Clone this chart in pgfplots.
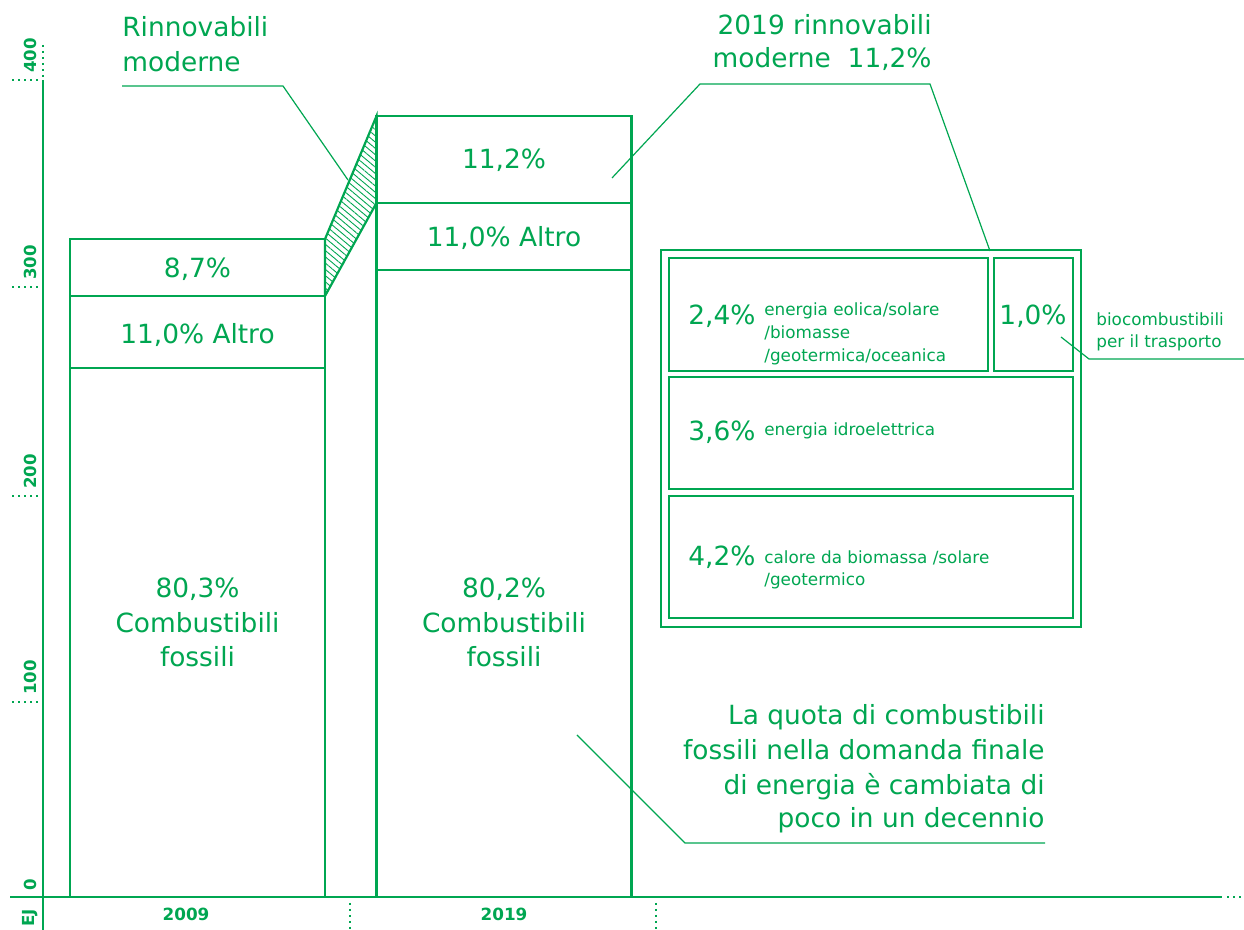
\documentclass[border=0pt]{standalone}
\usepackage{pgfplots}
\pgfplotsset{compat=1.18}
\usetikzlibrary{patterns.meta}
\usepackage{fontspec}
\setmainfont{DejaVu Sans}
\definecolor{eg}{RGB}{0,166,81}
\newcommand\bt{\fontsize{13.2}{17}\selectfont}
\newcommand\st{\fontsize{8.4}{10.5}\selectfont}
\newcommand\tk{\fontsize{8.3}{9}\selectfont\bfseries}
\tikzset{dots/.style={line width=1pt, dash pattern=on 1pt off 2pt}}
\begin{document}
\begin{tikzpicture}
\begin{axis}[at={(0,0)}, anchor=south west, scale only axis,
  width=622pt, height=465pt,
  xmin=0, xmax=1244, ymin=-16.176, ymax=439.706,
  hide axis, clip=false]
% stack tops (EJ): total, fossil+altro, fossil
\addplot[ybar, bar width=255, bar shift=0pt, draw=eg, fill=white, line width=1.1pt]
  coordinates {(197.5,322.5) (504,382.8)};
\addplot[ybar, bar width=255, bar shift=0pt, draw=eg, fill=white, line width=1.1pt]
  coordinates {(197.5,294.6) (504,340.2)};
\addplot[ybar, bar width=255, bar shift=0pt, draw=eg, fill=white, line width=1.1pt]
  coordinates {(197.5,259.3) (504,307.4)};
% growth of modern renewables
\addplot[draw=eg, line width=1.1pt, pattern={Lines[angle=-40, distance=2.4pt, line width=0.45pt]}, pattern color=eg]
  coordinates {(325,294.6) (325,322.5) (376.5,382.8) (376.5,340.2) (325,294.6)};
\end{axis}
\begin{scope}[x=0.5pt, y=-0.5pt, yshift=465pt, color=eg]
% axes
\draw[line width=1.2pt] (10,897) -- (1222,897);
\draw[dots] (1227,897) -- (1244,897);
\draw[line width=1.1pt] (43,80) -- (43,930);
\draw[dots] (43,45) -- (43,77);
\foreach \p/\l in {80/400,287/300,496/200,702/100}{
  \draw[dots] (12,\p) -- (40,\p);
  \node[rotate=90, anchor=west, inner sep=0pt] at (30,\p-7) {\tk \l};
}
\node[rotate=90, inner sep=0pt] at (30,885) {\tk 0};
\node[rotate=90, inner sep=0pt] at (30,918) {\tk EJ};
\draw[dots, line width=0.8pt] (350,903) -- (350,930);
\draw[dots, line width=0.8pt] (656,903) -- (656,930);
\node[anchor=base, inner sep=0pt] at (186,921) {\fontsize{8.4}{9}\selectfont\bfseries 2009};
\node[anchor=base, inner sep=0pt] at (504,921) {\fontsize{8.4}{9}\selectfont\bfseries 2019};
% bar labels
\node[anchor=base, inner sep=0pt] at (197.5,278) {\bt 8,7\%};
\node[anchor=base, inner sep=0pt] at (197.5,344) {\bt 11,0\% Altro};
\node[anchor=base, inner sep=0pt] at (197.5,598) {\bt 80,3\%};
\node[anchor=base, inner sep=0pt] at (197.5,633) {\bt Combustibili};
\node[anchor=base, inner sep=0pt] at (197.5,667) {\bt fossili};
\node[anchor=base, inner sep=0pt] at (504,169) {\bt 11,2\%};
\node[anchor=base, inner sep=0pt] at (504,247) {\bt 11,0\% Altro};
\node[anchor=base, inner sep=0pt] at (504,598) {\bt 80,2\%};
\node[anchor=base, inner sep=0pt] at (504,633) {\bt Combustibili};
\node[anchor=base, inner sep=0pt] at (504,667) {\bt fossili};
% titles
\node[anchor=base west, inner sep=0pt] at (122,37) {\bt Rinnovabili};
\node[anchor=base west, inner sep=0pt] at (122,72) {\bt moderne};
\draw[line width=0.6pt] (122,86) -- (283,86) -- (348,180);
\node[anchor=base east, inner sep=0pt] at (932,35) {\bt 2019 rinnovabili};
\node[anchor=base east, inner sep=0pt] at (932,68) {\bt moderne\ \ 11,2\%};
\draw[line width=0.6pt] (612,178) -- (700,84) -- (930,84) -- (990,251);
% breakdown boxes
\draw[line width=0.6pt] (661,250) rectangle (1081,627);
\draw[line width=1.1pt] (669,258) rectangle (988,371);
\draw[line width=1.1pt] (994,258) rectangle (1073,371);
\draw[line width=1.1pt] (669,377) rectangle (1073,489);
\draw[line width=1.1pt] (669,496) rectangle (1073,618);
\node[anchor=base west, inner sep=0pt] at (688,325) {\bt 2,4\%};
\node[anchor=base west, inner sep=0pt] at (764,316) {\st energia eolica/solare};
\node[anchor=base west, inner sep=0pt] at (764,339) {\st /biomasse};
\node[anchor=base west, inner sep=0pt] at (764,362) {\st /geotermica/oceanica};
\node[anchor=base, inner sep=0pt] at (1033,325) {\bt 1,0\%};
\node[anchor=base west, inner sep=0pt] at (1096,326) {\st biocombustibili};
\node[anchor=base west, inner sep=0pt] at (1096,348) {\st per il trasporto};
\draw[line width=0.6pt] (1061,337) -- (1089,359) -- (1244,359);
\node[anchor=base west, inner sep=0pt] at (688,441) {\bt 3,6\%};
\node[anchor=base west, inner sep=0pt] at (764,436) {\st energia idroelettrica};
\node[anchor=base west, inner sep=0pt] at (688,566) {\bt 4,2\%};
\node[anchor=base west, inner sep=0pt] at (764,564) {\st calore da biomassa /solare};
\node[anchor=base west, inner sep=0pt] at (764,586) {\st /geotermico};
% note
\node[anchor=base east, inner sep=0pt] at (1045,725) {\bt La quota di combustibili};
\node[anchor=base east, inner sep=0pt] at (1045,760) {\bt fossili nella domanda finale};
\node[anchor=base east, inner sep=0pt] at (1045,795) {\bt di energia è cambiata di};
\node[anchor=base east, inner sep=0pt] at (1045,828) {\bt poco in un decennio};
\draw[line width=0.6pt] (577,735) -- (685,843) -- (1045,843);
\end{scope}
\pgfresetboundingbox
\useasboundingbox (0,0) rectangle (622pt,465pt);
\end{tikzpicture}
\end{document}
